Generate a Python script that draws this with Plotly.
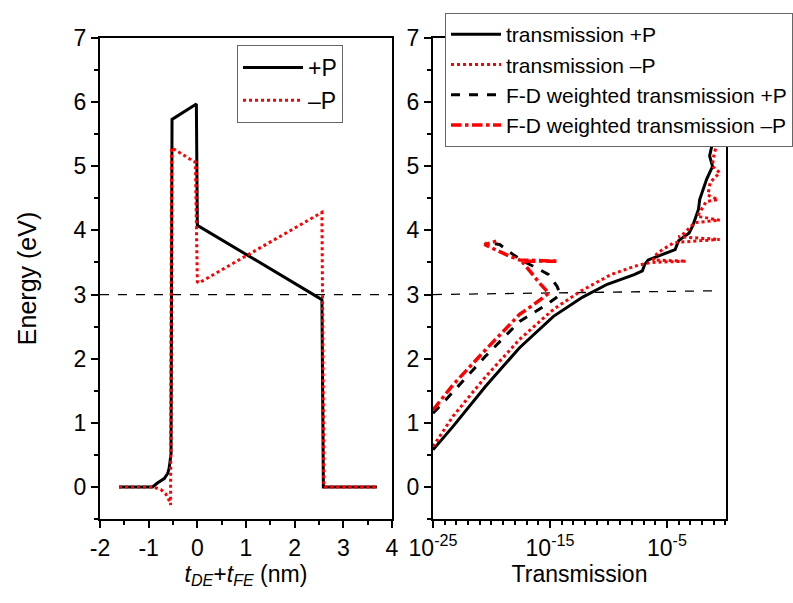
import plotly.graph_objects as go

# ---------------- Left panel: band profile ----------------
pos_x = [-1.61, -0.92, -0.82, -0.68, -0.61, -0.58, -0.54, -0.52, -0.02, 0.0, 2.56, 2.59, 3.69]
pos_e = [0.0, 0.0, 0.06, 0.13, 0.21, 0.29, 0.52, 5.73, 5.97, 4.08, 2.92, 0.0, 0.0]

neg_x = [-1.61, -0.92, -0.75, -0.65, -0.58, -0.55, -0.53, -0.04, 0.0, 0.03, 2.56, 2.60, 3.69]
neg_e = [0.0, 0.0, -0.04, -0.11, -0.21, -0.28, 5.29, 5.06, 3.20, 3.18, 4.28, 0.0, 0.0]

fermi_left_x = [-2, 4]
fermi_left_e = [3.0, 3.0]

# ---------------- Right panel: transmission (log10 values) ----------------
tp_log = [-25, -23.3, -20.5, -17.6, -14.7, -12.2, -10.1, -7.8, -7.1, -6.9, -6.6, -5.5, -4.3, -4.0,
          -3.1, -2.8, -2.6, -2.3, -2.2, -1.9, -1.6, -1.1, -1.35, -1.1, -0.86, -0.8]
tp_e = [0.58, 0.94, 1.57, 2.17, 2.66, 2.96, 3.16, 3.31, 3.37, 3.47, 3.54, 3.62, 3.70, 3.84,
        3.96, 4.07, 4.17, 4.33, 4.48, 4.64, 4.80, 5.0, 5.16, 5.37, 5.68, 6.1]

tm_log = [-25, -23.3, -20.5, -17.6, -14.7, -12.4, -9.8, -7.8, -6.4, -3.36, -6.2, -5.8, -4.4, -0.49,
          -4.0, -3.5, -2.64, -0.49, -2.4, -2.07, -1.64, -0.64, -1.5, -1.3, -0.49, -1.1, -1.06,
          -0.78, -0.3, -0.8, -0.49, -0.35]
tm_e = [0.63, 1.10, 1.72, 2.30, 2.77, 3.05, 3.31, 3.44, 3.50, 3.52, 3.54, 3.65, 3.81, 3.86,
        3.90, 3.96, 4.12, 4.16, 4.22, 4.33, 4.45, 4.48, 4.55, 4.75, 4.90, 5.0, 5.11,
        5.32, 5.37, 5.45, 5.63, 5.85]

fdp_log = [-25, -23.9, -20.5, -17.6, -15.3, -14.1, -14.4, -15.1, -16.2, -17.3, -18.2, -19.3, -20.5]
fdp_e = [1.15, 1.36, 2.04, 2.58, 2.84, 3.0, 3.13, 3.31, 3.42, 3.52, 3.63, 3.78, 3.81]

fdm_log = [-25, -23.3, -20.5, -17.6, -16.2, -15.1, -15.9, -17.0, -17.4, -14.3, -17.6, -18.5,
           -19.6, -20.6, -19.6]
fdm_e = [1.2, 1.59, 2.14, 2.69, 2.87, 3.02, 3.18, 3.42, 3.52, 3.52, 3.54, 3.60,
         3.70, 3.78, 3.83]

fermi_right_log = [-25, -0.4]
fermi_right_e = [3.0, 3.06]

x_ticks_left = [-2, -1, 0, 1, 2, 3, 4]
x_ticklabels_left = ["-2", "-1", "0", "1", "2", "3", "4"]
y_ticks = [0, 1, 2, 3, 4, 5, 6, 7]
x_ticks_right_exp = [-25, -15, -5]

FONT = "Liberation Sans, Arial, sans-serif"


def tolin(vals):
    return [10 ** v for v in vals]


fig = go.Figure()

# Left panel traces
fig.add_trace(go.Scatter(x=fermi_left_x, y=fermi_left_e, mode="lines",
                         line=dict(color="black", width=1.3, dash="dash"),
                         showlegend=False, xaxis="x", yaxis="y", hoverinfo="skip"))
fig.add_trace(go.Scatter(x=pos_x, y=pos_e, mode="lines", name="+P",
                         line=dict(color="black", width=3),
                         legend="legend", legendgroup="a", xaxis="x", yaxis="y"))
fig.add_trace(go.Scatter(x=neg_x, y=neg_e, mode="lines", name="\u2013P",
                         line=dict(color="red", width=3, dash="dot"),
                         legend="legend", legendgroup="b", xaxis="x", yaxis="y"))

# Right panel traces
fig.add_trace(go.Scatter(x=tolin(fermi_right_log), y=fermi_right_e, mode="lines",
                         line=dict(color="black", width=1.3, dash="dash"),
                         showlegend=False, xaxis="x2", yaxis="y2", hoverinfo="skip"))
fig.add_trace(go.Scatter(x=tolin(fdp_log), y=fdp_e, mode="lines",
                         name="F-D weighted transmission +P",
                         line=dict(color="black", width=3, dash="dash"),
                         legend="legend2", legendrank=3, xaxis="x2", yaxis="y2"))
fig.add_trace(go.Scatter(x=tolin(fdm_log), y=fdm_e, mode="lines",
                         name="F-D weighted transmission \u2013P",
                         line=dict(color="red", width=3.5, dash="dashdot"),
                         legend="legend2", legendrank=4, xaxis="x2", yaxis="y2"))
fig.add_trace(go.Scatter(x=tolin(tp_log), y=tp_e, mode="lines", name="transmission +P",
                         line=dict(color="black", width=3),
                         legend="legend2", legendrank=1, xaxis="x2", yaxis="y2"))
fig.add_trace(go.Scatter(x=tolin(tm_log), y=tm_e, mode="lines", name="transmission \u2013P",
                         line=dict(color="red", width=3, dash="dot"),
                         legend="legend2", legendrank=2, xaxis="x2", yaxis="y2"))

W, H = 793, 603
axis_common = dict(showline=True, linewidth=2, linecolor="black", mirror=True,
                   ticks="outside", ticklen=7, tickwidth=2, tickcolor="black",
                   showgrid=False, zeroline=False,
                   tickfont=dict(size=23, color="black", family=FONT))
minor_lin = dict(dtick=0.5, ticks="outside", ticklen=4, tickwidth=2, tickcolor="black")

fig.update_layout(
    width=W, height=H,
    margin=dict(l=0, r=0, t=0, b=0, autoexpand=False),
    paper_bgcolor="white", plot_bgcolor="white",
    font=dict(family=FONT, color="black", size=21),
    xaxis=dict(domain=[100 / W, 392 / W], anchor="y", range=[-2, 4],
               tickmode="array", tickvals=x_ticks_left, ticktext=x_ticklabels_left,
               minor=minor_lin,
               title=dict(text="<i>t</i><sub><i>DE</i></sub>+<i>t</i><sub><i>FE</i></sub> (nm)",
                          font=dict(size=23), standoff=4),
               **axis_common),
    yaxis=dict(domain=[1 - 519 / H, 1 - 38 / H], anchor="x", range=[-0.5, 7],
               tickmode="array", tickvals=y_ticks,
               minor=minor_lin,
               title=dict(text="Energy (eV)", font=dict(size=25), standoff=30),
               **axis_common),
    xaxis2=dict(domain=[433 / W, 726 / W], anchor="y2", type="log", range=[-25, 0.05],
                tickmode="array", tickvals=tolin(x_ticks_right_exp),
                ticktext=["10<sup>%d</sup>" % e for e in x_ticks_right_exp],
                minor=dict(tickmode="array", tickvals=tolin(list(range(-25, 1))),
                           ticks="outside", ticklen=4, tickwidth=2, tickcolor="black"),
                title=dict(text="Transmission", font=dict(size=23), standoff=4),
                **axis_common),
    yaxis2=dict(domain=[1 - 519 / H, 1 - 38 / H], anchor="x2", range=[-0.5, 7],
                tickmode="array", tickvals=y_ticks,
                minor=minor_lin,
                **axis_common),
    legend=dict(x=237 / W, y=1 - 45 / H, xanchor="left", yanchor="top",
                bgcolor="white", bordercolor="#666666", borderwidth=1,
                font=dict(size=23, family=FONT, color="black"),
                itemwidth=60, tracegroupgap=6, traceorder="normal"),
    legend2=dict(x=445 / W, y=1 - 13 / H, xanchor="left", yanchor="top",
                 bgcolor="white", bordercolor="#666666", borderwidth=1,
                 font=dict(size=21, family=FONT, color="black"),
                 itemwidth=50, tracegroupgap=0, traceorder="normal"),
)

fig.write_html("out.html")
